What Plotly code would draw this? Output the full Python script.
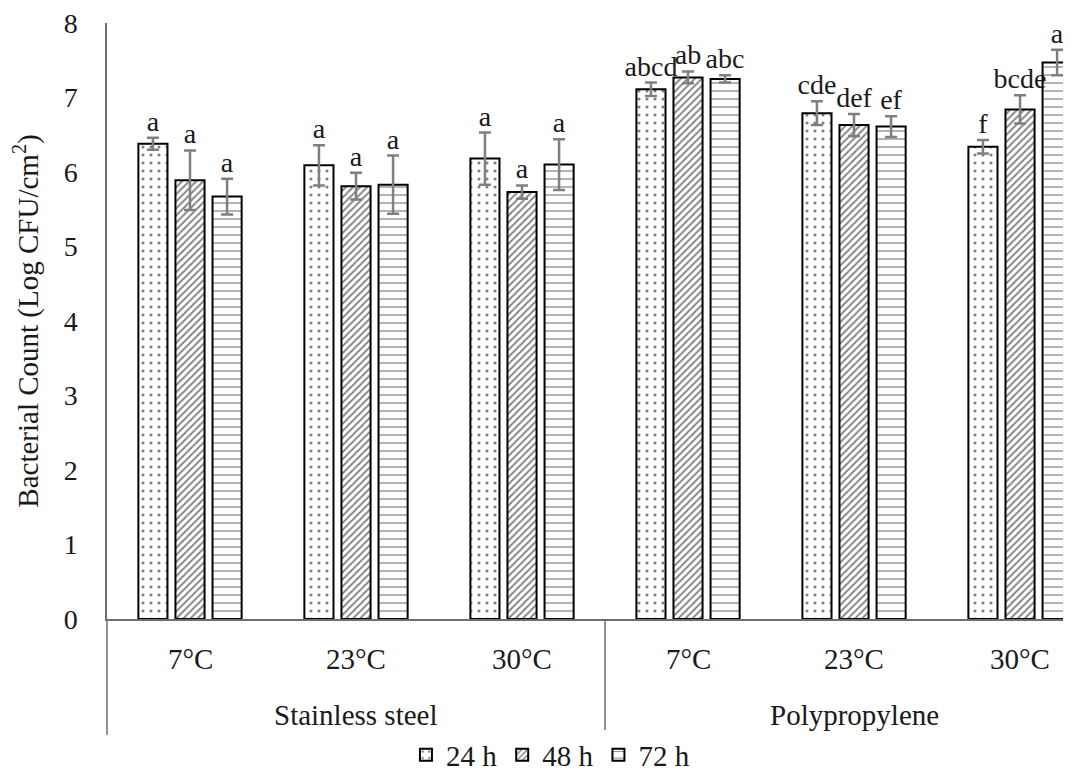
import plotly.graph_objects as go

temps = ["7°C", "23°C", "30°C", "7°C", "23°C", "30°C"]
materials = ["Stainless steel", "Polypropylene"]
series = ["24 h", "48 h", "72 h"]

v24 = [6.38, 6.09, 6.18, 7.11, 6.79, 6.34]
v48 = [5.89, 5.81, 5.73, 7.27, 6.63, 6.84]
v72 = [5.67, 5.83, 6.10, 7.25, 6.61, 7.47]

e24 = [0.08, 0.27, 0.35, 0.09, 0.16, 0.09]
e48 = [0.40, 0.18, 0.09, 0.08, 0.15, 0.19]
e72 = [0.24, 0.39, 0.34, 0.05, 0.14, 0.17]

l24 = ["a", "a", "a", "abcd", "cde", "f"]
l48 = ["a", "a", "a", "ab", "def", "bcde"]
l72 = ["a", "a", "a", "abc", "ef", "a"]

values = [v24, v48, v72]
errors = [e24, e48, e72]
letters = [l24, l48, l72]
patterns = [".", "/", "-"]
psize = [8, 5, 8]
psolid = [0.12, 0.35, 0.15]

FONT = "Liberation Serif"
TXT = "#1a1a1a"
F = dict(family=FONT, size=29, color=TXT)

fig = go.Figure()
xs = list(range(len(temps)))
for k in range(3):
    fig.add_trace(go.Bar(
        x=xs, y=values[k], name=series[k],
        marker=dict(color="white", line=dict(color="black", width=2),
                    pattern=dict(shape=patterns[k], fgcolor="black", bgcolor="white",
                                 size=psize[k], solidity=psolid[k], fillmode="overlay")),
        error_y=dict(type="data", array=errors[k], visible=True,
                     color="#7f7f7f", thickness=2.5, width=6),
    ))

slot = 0.223
for k in range(3):
    fig.add_trace(go.Scatter(
        x=[i + (k - 1) * slot for i in xs],
        y=[v + e for v, e in zip(values[k], errors[k])],
        mode="text", text=letters[k], textposition="top center",
        textfont=dict(family=FONT, size=28, color=TXT),
        showlegend=False, cliponaxis=False, hoverinfo="skip",
    ))

TOP = 15
H = 611.0 - TOP
for i, t in enumerate(temps):
    fig.add_annotation(x=i, y=-40 / H, xref="x", yref="paper", text=t, showarrow=False,
                       font=F, yanchor="middle")
for j, m in enumerate(materials):
    fig.add_annotation(x=1 + 3 * j, y=-96 / H, xref="x", yref="paper", text=m, showarrow=False,
                       font=F, yanchor="middle")

fig.add_shape(type="line", xref="paper", yref="paper", x0=0, x1=0, y0=0, y1=-116 / H,
              line=dict(color="#6e6e6e", width=1.5))
fig.add_shape(type="line", xref="x", yref="paper", x0=2.5, x1=2.5, y0=0, y1=-116 / H,
              line=dict(color="#6e6e6e", width=1.5))

W, HT = 1063, 765
fig.update_layout(
    width=W, height=HT,
    margin=dict(l=99, r=0, t=TOP, b=HT - 611, autoexpand=False),
    paper_bgcolor="white", plot_bgcolor="white",
    barmode="group", bargap=0.33, bargroupgap=0.215,
    font=F,
    showlegend=True,
    legend=dict(orientation="h", x=0.46, xanchor="center", xref="paper",
                y=18 / HT, yanchor="middle", yref="container",
                font=F, itemwidth=30, tracegroupgap=0, itemsizing="constant"),
    xaxis=dict(range=[-0.5, 5.307], showticklabels=False, showgrid=False, zeroline=False,
               showline=True, linecolor="#6e6e6e", linewidth=1.5, ticks=""),
    yaxis=dict(range=[0, 8], dtick=1, showgrid=False, zeroline=False, showline=True,
               linecolor="#6e6e6e", linewidth=1.5, ticks="", ticklabelstandoff=22,
               ticklabeloverflow="allow", tickfont=dict(family=FONT, size=28, color=TXT),
               title=dict(text="Bacterial Count (Log CFU/cm<sup>2</sup>)", standoff=20,
                          font=F)),
)

fig.write_html("out.html")
